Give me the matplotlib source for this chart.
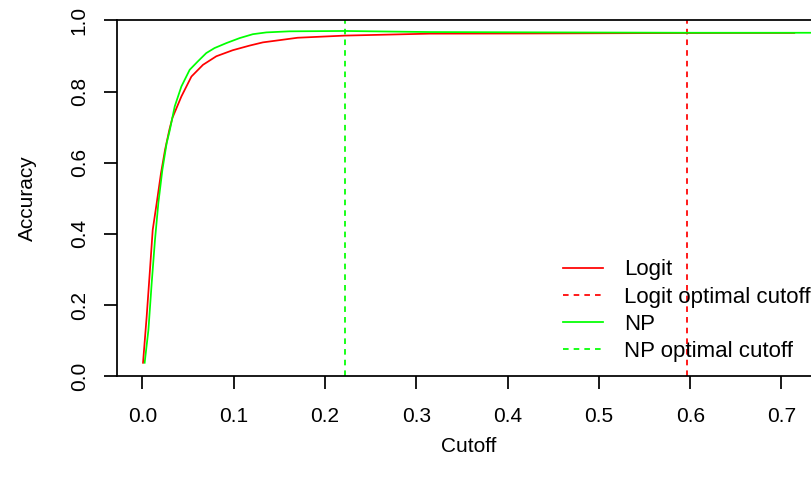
import matplotlib
matplotlib.use("Agg")
import matplotlib.pyplot as plt

# ========== DATA ==========

logit_cutoff = [0.0007, 0.0047, 0.0083, 0.0113, 0.0157, 0.0204, 0.0248, 0.0296,
                0.0329, 0.0427, 0.0537, 0.0664, 0.081, 0.099, 0.1175, 0.132,
                0.1467, 0.17, 0.2215, 0.3146, 0.42, 0.55, 0.65, 0.714]
logit_acc = [0.038, 0.168, 0.299, 0.411, 0.487, 0.571, 0.636, 0.693,
             0.726, 0.786, 0.842, 0.875, 0.899, 0.916, 0.929, 0.938,
             0.943, 0.951, 0.957, 0.9625, 0.963, 0.964, 0.9645, 0.9645]

np_cutoff = [0.0025, 0.0066, 0.0102, 0.0138, 0.0175, 0.0219, 0.0266, 0.0299,
             0.0354, 0.0427, 0.0518, 0.0609, 0.070, 0.079, 0.092, 0.1065,
             0.121, 0.1358, 0.161, 0.2215, 0.3146, 0.45, 0.6, 0.76]
np_acc = [0.038, 0.130, 0.262, 0.383, 0.487, 0.580, 0.655, 0.690,
          0.758, 0.814, 0.861, 0.885, 0.908, 0.922, 0.936, 0.950,
          0.961, 0.966, 0.969, 0.970, 0.967, 0.966, 0.965, 0.965]

logit_opt = 0.596
np_opt = 0.2222

x_ticks = [0.0, 0.1, 0.2, 0.3, 0.4, 0.5, 0.6, 0.7]
y_ticks = [0.0, 0.2, 0.4, 0.6, 0.8, 1.0]

# ===================================================

W, H = 811, 483
LW = 1.26
FS = 15
FS_LEG = 16
DASH = (3.2, 2.9)

plt.rcParams["font.family"] = ["Liberation Sans", "DejaVu Sans"]
plt.rcParams["font.size"] = FS

fig = plt.figure(figsize=(W / 100, H / 100), dpi=100)
# plot region runs a little past the right edge of the picture
left, right, top, bottom = 117, 820.3, 20.3, 376.3
ax = fig.add_axes([left / W, 1 - bottom / H, (right - left) / W, (bottom - top) / H])

ax.plot(logit_cutoff, logit_acc, color="#FF0000", lw=LW, label="Logit")
ax.axvline(logit_opt, color="#FF0000", lw=LW, linestyle=(0, DASH), label="Logit optimal cutoff")
ax.plot(np_cutoff, np_acc, color="#00FF00", lw=LW, label="NP")
ax.axvline(np_opt, color="#00FF00", lw=LW, linestyle=(0, DASH), label="NP optimal cutoff")

ax.set_xlim(-0.0278, 0.7425)
ax.set_ylim(0, 1)
ax.set_xticks(x_ticks)
ax.set_xticklabels([f"{v:.1f}" for v in x_ticks])
ax.set_yticks(y_ticks)
ax.set_yticklabels([f"{v:.1f}" for v in y_ticks], rotation=90, va="center")

for s in ax.spines.values():
    s.set_linewidth(LW)
    s.set_color("black")
ax.tick_params(axis="both", direction="out", length=9.4, width=LW, labelsize=FS, colors="black")
ax.tick_params(axis="x", pad=12.7)
ax.tick_params(axis="y", pad=11)

ax.set_xlabel("Cutoff", fontsize=FS)
ax.set_ylabel("Accuracy", fontsize=FS)
ax.xaxis.set_label_coords(0.5, (bottom - 446) / (bottom - top))
ax.yaxis.set_label_coords((27 - left) / (right - left), 0.5)
ax.xaxis.label.set_va("center")
ax.yaxis.label.set_va("center")

ax.legend(loc="upper left", bbox_to_anchor=(563 / W, 1 - 259.5 / H),
          bbox_transform=fig.transFigure, frameon=False, fontsize=FS_LEG,
          borderpad=0, borderaxespad=0, handlelength=1.8, handletextpad=0.95,
          labelspacing=0.27)

fig.savefig("out.png", dpi=100)
